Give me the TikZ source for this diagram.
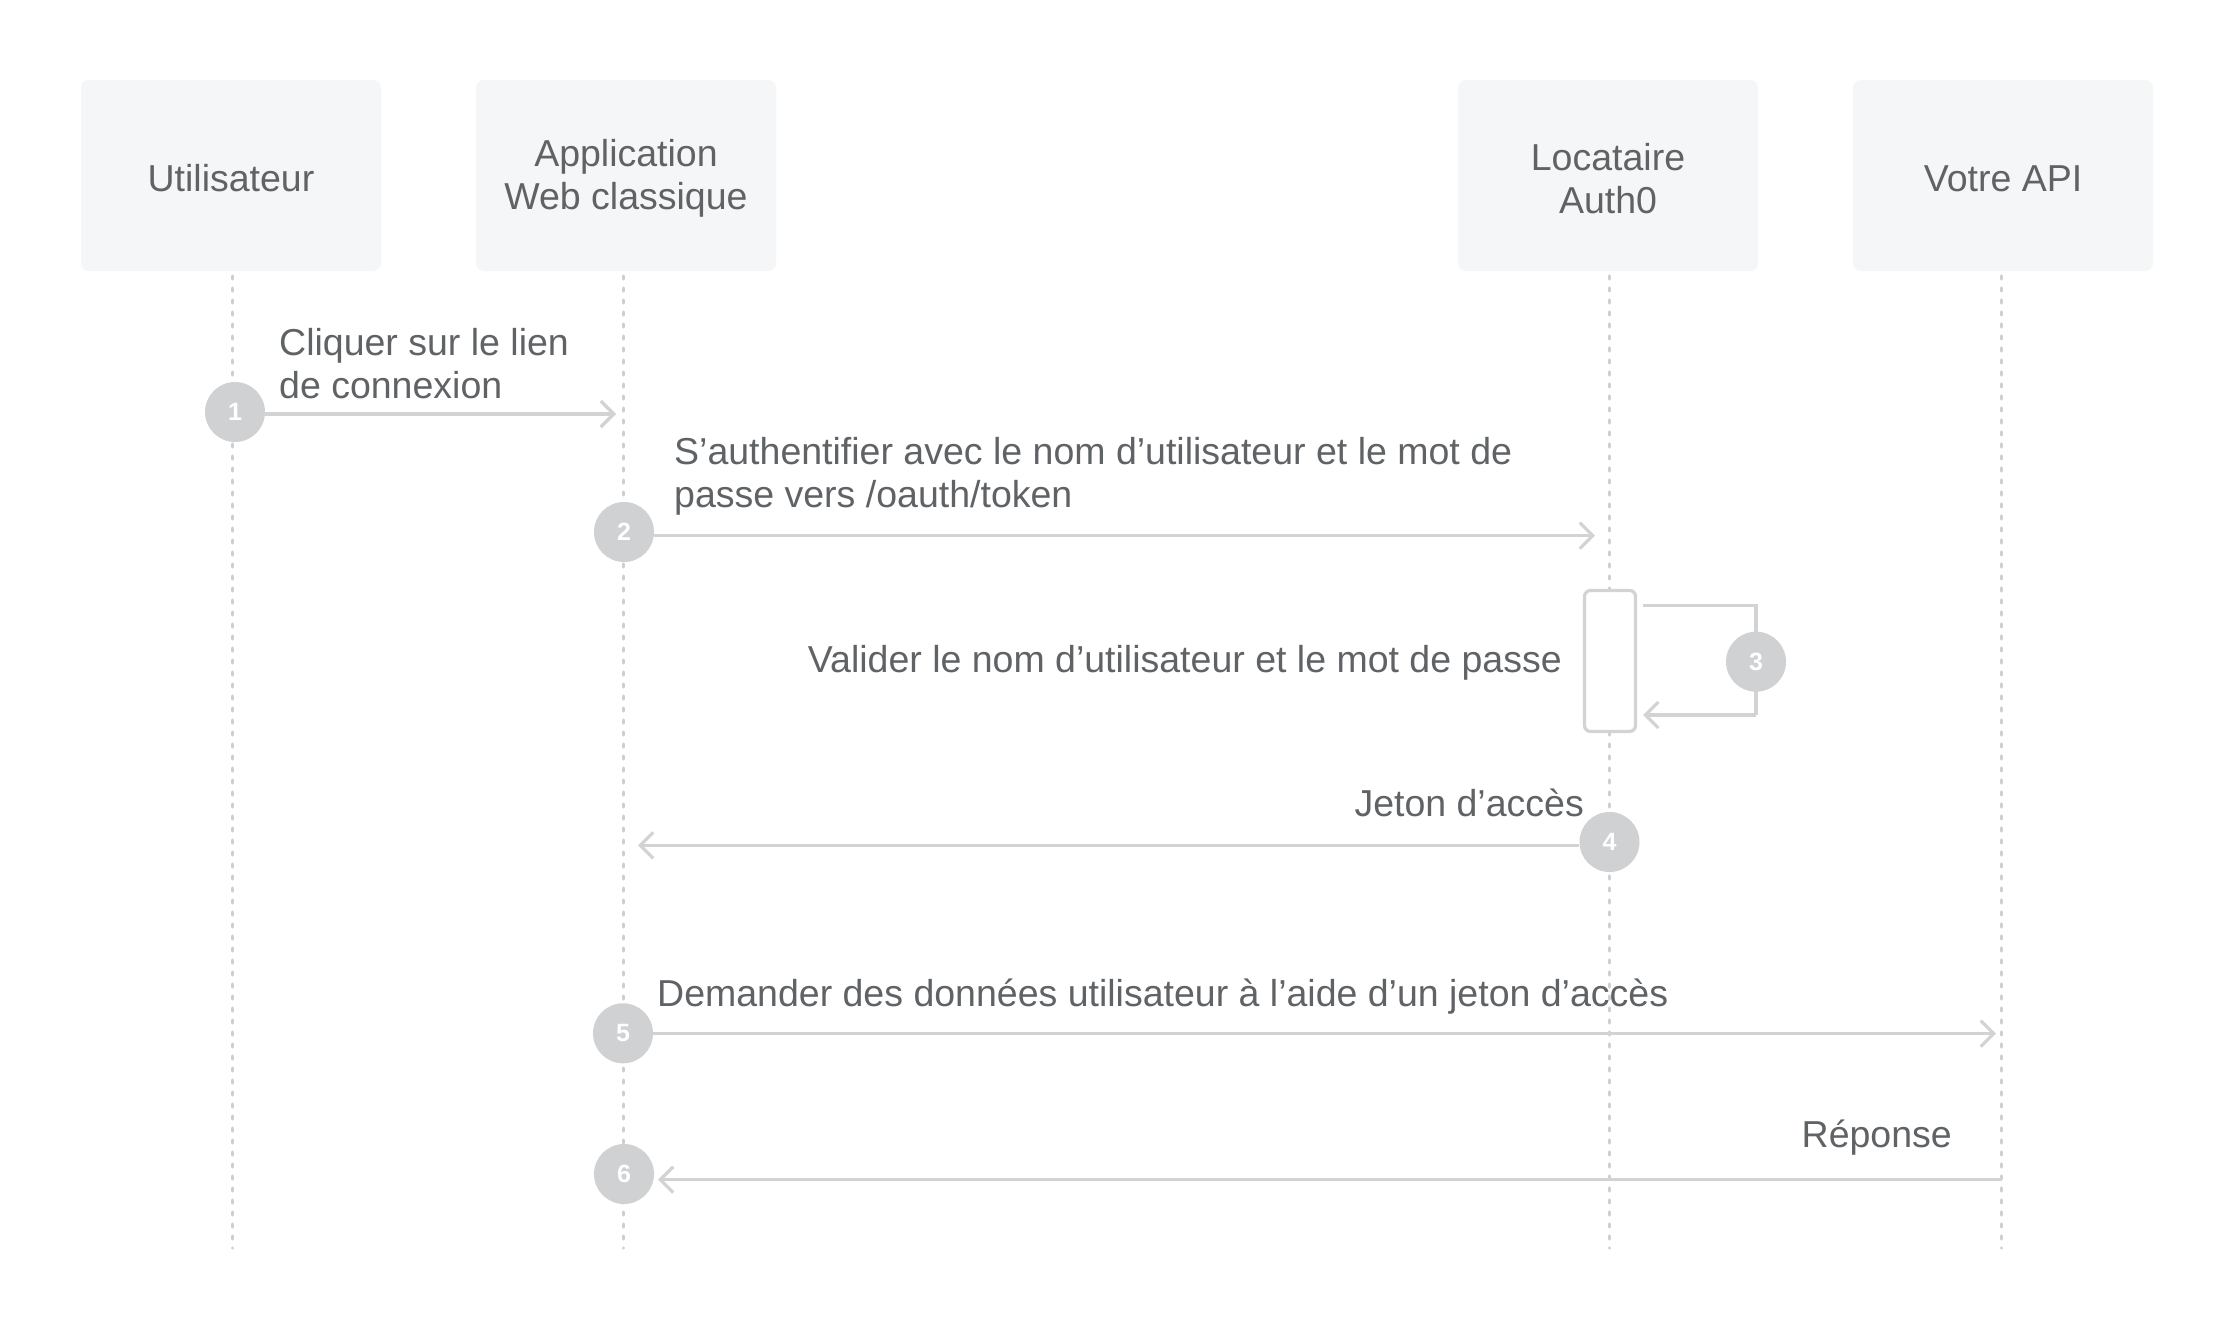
\documentclass[tikz,border=0pt]{standalone}
\usepackage{fontspec}
\setmainfont{Liberation Sans}
\usetikzlibrary{arrows.meta,calc}
\definecolor{txt}{HTML}{606366}
\definecolor{ln}{HTML}{D1D3D4}
\definecolor{lifec}{HTML}{CDCFD0}
\definecolor{boxfill}{HTML}{F5F6F7}
\definecolor{badgec}{HTML}{CFD1D2}
\newcommand{\upstrut}{\rule{0pt}{33pt}}
\begin{document}
\begin{tikzpicture}[x=1pt,y=-1pt,
  actor/.style={fill=boxfill, rounded corners=8pt, minimum width=300pt, minimum height=191pt, inner sep=0pt, align=center, text=txt, font=\fontsize{37.5}{43}\selectfont},
  lbl/.style={font=\fontsize{37.5}{43}\selectfont, text=txt, inner sep=0pt},
  life/.style={draw=lifec, line width=3.4pt, line cap=round, dash pattern=on 3pt off 9pt},
  msg/.style={draw=ln, line width=3.2pt, -{Straight Barb[length=13pt,width=26pt,line width=3.2pt]}},
  plainln/.style={draw=ln, line width=3.2pt},
  badge/.style={circle, fill=badgec, minimum size=60pt, inner sep=0pt, text=white, font=\fontsize{25}{25}\selectfont\bfseries},
  actbar/.style={draw=ln, line width=3.2pt, fill=white, rounded corners=6pt, minimum width=51pt, minimum height=141pt, inner sep=0pt}
]
\useasboundingbox[fill=white] (0,0) rectangle (2234,1330);

% participants
\node[actor] (user) at (231,175.5) {\upstrut Utilisateur};
\node[actor] (app)  at (626,175.5) {\upstrut Application\\Web classique};
\node[actor] (auth) at (1608,175.5) {\upstrut Locataire\\Auth0};
\node[actor] (api)  at (2003,175.5) {\upstrut Votre API};

% lifeline ends
\coordinate (userB) at (232.5,1248);
\coordinate (appB)  at (623.5,1248);
\coordinate (authB) at (1609.5,1248);
\coordinate (apiB)  at (2001.5,1248);
\coordinate (userT) at (232.5,276);
\coordinate (appT)  at (623.5,276);
\coordinate (authT) at (1609.5,276);
\coordinate (apiT)  at (2001.5,276);
\draw[life] (userT) -- (userB);
\draw[life] (appT) -- (appB);
\draw[life] (authT) -- (authB);
\draw[life] (apiT) -- (apiB);

% activation bar
\node[actbar] (bar) at (1610,661) {};

% message 1
\node[badge] (c1) at (235,412) {1};
\coordinate (e1) at (616,414);
\draw[msg] (c1.east |- e1) -- (e1);
\node[lbl, anchor=base west] (t1a) at (279,355) {Cliquer sur le lien};
\node[lbl, anchor=base west] (t1b) at (279,398) {de connexion};

% message 2
\node[badge] (c2) at (624,532) {2};
\coordinate (e2) at (1595,535.7);
\draw[msg] (c2.east |- e2) -- (e2);
\node[lbl, anchor=base west] (t2a) at (674,464.5) {S’authentifier avec le nom d’utilisateur et le mot de};
\node[lbl, anchor=base west] (t2b) at (674,507.5) {passe vers /oauth/token};

% message 3 (self)
\coordinate (s3) at (1643,605.7);
\coordinate (k3a) at (1756,605.7);
\coordinate (k3b) at (1756,715);
\coordinate (e3) at (1643,715);
\draw[plainln] (s3) -- (k3a) -- (k3b);
\draw[msg] (k3b) -- (e3);
\node[badge] (c3) at (1756,661.7) {3};
\node[lbl, anchor=base east] (t3) at (1562,672.7) {Valider le nom d’utilisateur et le mot de passe};

% message 4
\node[badge] (c4) at (1609.5,842) {4};
\coordinate (e4) at (638,845.3);
\draw[msg] (c4.west |- e4) -- (e4);
\node[lbl, anchor=base east] (t4) at (1584,816.7) {Jeton d’accès};

% message 5
\node[badge] (c5) at (623,1033.3) {5};
\coordinate (e5) at (1996,1033.7);
\draw[msg] (c5.east |- e5) -- (e5);
\node[lbl, anchor=base west] (t5) at (657,1006.7) {Demander des données utilisateur à l’aide d’un jeton d’accès};

% message 6
\node[badge] (c6) at (624,1174) {6};
\coordinate (s6) at (2001.5,1179.7);
\coordinate (e6) at (658,1179.7);
\draw[msg] (s6) -- (e6);
\node[lbl, anchor=base east] (t6) at (1952,1147.3) {Réponse};
\end{tikzpicture}
\end{document}
